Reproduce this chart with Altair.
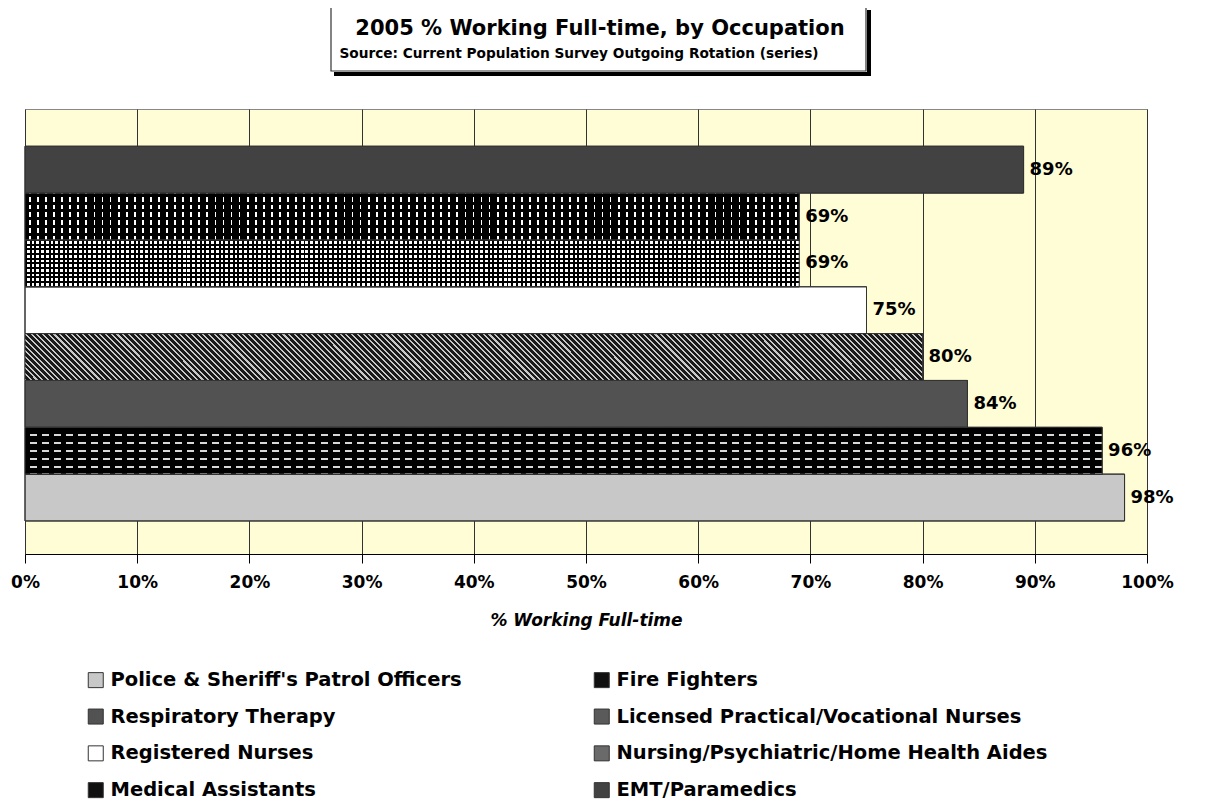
import altair as alt
import pandas as pd

# ---------------- data ----------------
occupations = [
    "Police & Sheriff's Patrol Officers",
    "Fire Fighters",
    "Respiratory Therapy",
    "Licensed Practical/Vocational Nurses",
    "Registered Nurses",
    "Nursing/Psychiatric/Home Health Aides",
    "Medical Assistants",
    "EMT/Paramedics",
]
pct_full_time = [0.98, 0.96, 0.84, 0.80, 0.75, 0.69, 0.69, 0.89]
bar_order_top_down = [
    "EMT/Paramedics",
    "Medical Assistants",
    "Nursing/Psychiatric/Home Health Aides",
    "Registered Nurses",
    "Licensed Practical/Vocational Nurses",
    "Respiratory Therapy",
    "Fire Fighters",
    "Police & Sheriff's Patrol Officers",
]
# legend is filled column by column: left column first, then right column
legend_order = [
    "Police & Sheriff's Patrol Officers",
    "Respiratory Therapy",
    "Registered Nurses",
    "Medical Assistants",
    "Fire Fighters",
    "Licensed Practical/Vocational Nurses",
    "Nursing/Psychiatric/Home Health Aides",
    "EMT/Paramedics",
]
x_ticks = [0.0, 0.1, 0.2, 0.3, 0.4, 0.5, 0.6, 0.7, 0.8, 0.9, 1.0]
title_text = "2005 % Working Full-time, by Occupation"
subtitle_text = "Source: Current Population Survey Outgoing Rotation (series)"
x_title = "% Working Full-time"

# ---------------- styles ----------------
legend_fills = ["#c8c8c8", "#525252", "#ffffff", "#101010",
                "#101010", "#5a5a5a", "#6a6a6a", "#424242"]
FONT = "DejaVu Sans"
PLOT_W = 1122
PLOT_H = 445
BAND = 46.8

df = pd.DataFrame({"occupation": occupations, "pct": pct_full_time})


def stripes(n, on, on_color, off_color, phase=0.0):
    stops = [{"offset": 0.0, "color": off_color}]
    for i in range(n):
        a = min(max((i + phase) / n, 0.0), 1.0)
        b = min(max((i + phase + on) / n, 0.0), 1.0)
        stops += [
            {"offset": a, "color": off_color},
            {"offset": a, "color": on_color},
            {"offset": b, "color": on_color},
            {"offset": b, "color": off_color},
        ]
    stops.append({"offset": 1.0, "color": off_color})
    return stops


def grad(stops, x1=0, y1=0, x2=1, y2=0):
    return {"gradient": "linear", "x1": x1, "y1": y1, "x2": x2, "y2": y2,
            "stops": stops}


CLEAR = "rgba(0,0,0,0)"

# LPN diagonal hatch geometry (bar approx 0.80 of plot width)
W_lpn = 0.80 * PLOT_W
k = (W_lpn + BAND) / (W_lpn ** 2 + BAND ** 2)
lpn_fill = grad(stripes(int((W_lpn + BAND) / 5.7), 0.36, "#c8c8c8", "#1a1a1a"),
                x1=0, y1=1, x2=k * W_lpn, y2=1 - k * BAND)

W_69 = 0.69 * PLOT_W
W_96 = 0.96 * PLOT_W

pattern_layers = {
    "Fire Fighters": [
        grad(stripes(6, 0.26, "#d8d8d8", "#000000", phase=0.9), 0, 0, 0, 1),
        grad(stripes(int(W_96 / 12), 0.42, "#000000", CLEAR), 0, 0, 1, 0),
    ],
    "Licensed Practical/Vocational Nurses": [lpn_fill],
    "Nursing/Psychiatric/Home Health Aides": [
        grad(stripes(10, 0.58, "#ffffff", "#000000", phase=0.2), 0, 0, 0, 1),
        grad(stripes(int(W_69 / 4.7), 0.42, "#000000", CLEAR), 0, 0, 1, 0),
    ],
    "Medical Assistants": [
        grad(stripes(int(W_69 / 8), 0.22, "#ffffff", "#000000", phase=0.5), 0, 0, 1, 0),
        grad(stripes(6, 0.38, "#000000", CLEAR, phase=0.1), 0, 0, 0, 1),
    ],
}

x_enc = alt.X(
    "pct:Q",
    scale=alt.Scale(domain=[0, 1], nice=False, zero=True),
    axis=alt.Axis(
        values=x_ticks, format=".0%", title=x_title,
        labelFont=FONT, labelFontSize=17, labelFontWeight="bold", labelColor="black",
        labelFlush=False, labelOverlap=False, labelPadding=11,
        tickColor="black", tickSize=9, domainColor="black", domainWidth=1,
        grid=True, gridColor="#333333", gridWidth=1,
        titleFont=FONT, titleFontSize=17, titleFontWeight="bold",
        titleFontStyle="italic", titleColor="black", titlePadding=22,
    ),
)
y_enc = alt.Y(
    "occupation:N",
    sort=bar_order_top_down,
    scale=alt.Scale(domain=bar_order_top_down, paddingInner=0, paddingOuter=0.75, align=0.53),
    axis=None,
)

base = alt.Chart(df).mark_bar(stroke="#333333", strokeWidth=1).encode(
    x=x_enc,
    y=y_enc,
    color=alt.Color(
        "occupation:N",
        scale=alt.Scale(domain=legend_order, range=legend_fills),
        legend=alt.Legend(
            title=None, orient="none", legendX=61, legendY=561, columns=2,
            columnPadding=130, rowPadding=15.8, padding=0,
            symbolType="square", symbolSize=225, symbolStrokeColor="#333333",
            symbolStrokeWidth=1, symbolOpacity=1,
            labelFont=FONT, labelFontSize=19.5, labelFontWeight="bold",
            labelColor="black", labelLimit=700, labelOffset=5,
        ),
    ),
)

layers = [base]
for name, fills in pattern_layers.items():
    for f in fills:
        layers.append(
            alt.Chart(df)
            .transform_filter(alt.datum.occupation == name)
            .mark_bar(fill=f, strokeWidth=0)
            .encode(x=x_enc, y=y_enc)
        )

outline = alt.Chart(df).mark_bar(fillOpacity=0, stroke="#333333", strokeWidth=1).encode(
    x=x_enc, y=y_enc
)
labels = alt.Chart(df).mark_text(
    align="left", baseline="middle", dx=6, font=FONT, fontSize=18,
    fontWeight="bold", color="black",
).encode(x=x_enc, y=y_enc, text=alt.Text("pct:Q", format=".0%"))

one = alt.Data(values=[{"k": 1}])
box = alt.Chart(one).mark_rect(fillOpacity=0, stroke="#333333", strokeWidth=1.2).encode(
    x=alt.value(306), x2=alt.value(841), y=alt.value(-103), y2=alt.value(-38)
)
shadow_r = alt.Chart(one).mark_rect(color="black").encode(
    x=alt.value(842), x2=alt.value(846), y=alt.value(-99), y2=alt.value(-33)
)
shadow_b = alt.Chart(one).mark_rect(color="black").encode(
    x=alt.value(309), x2=alt.value(846), y=alt.value(-37), y2=alt.value(-33)
)
title_mark = alt.Chart(one).mark_text(
    align="center", baseline="alphabetic", font=FONT, fontSize=21,
    fontWeight="bold", color="black",
).encode(x=alt.value(575), y=alt.value(-74), text=alt.value(title_text))
subtitle_mark = alt.Chart(one).mark_text(
    align="center", baseline="alphabetic", font=FONT, fontSize=13.7,
    fontWeight="bold", color="black",
).encode(x=alt.value(554), y=alt.value(-51), text=alt.value(subtitle_text))

chart = alt.layer(
    *layers, outline, labels, box, shadow_r, shadow_b, title_mark, subtitle_mark
).properties(
    width=PLOT_W,
    height=PLOT_H,
    autosize=alt.AutoSizeParams(type="none"),
    padding={"left": 17, "top": 101, "right": 50, "bottom": 248},
).configure_view(fill="#FFFDD6", stroke="#888888", strokeWidth=1)

chart.save("out.html", embed_options={"renderer": "svg", "actions": False})
